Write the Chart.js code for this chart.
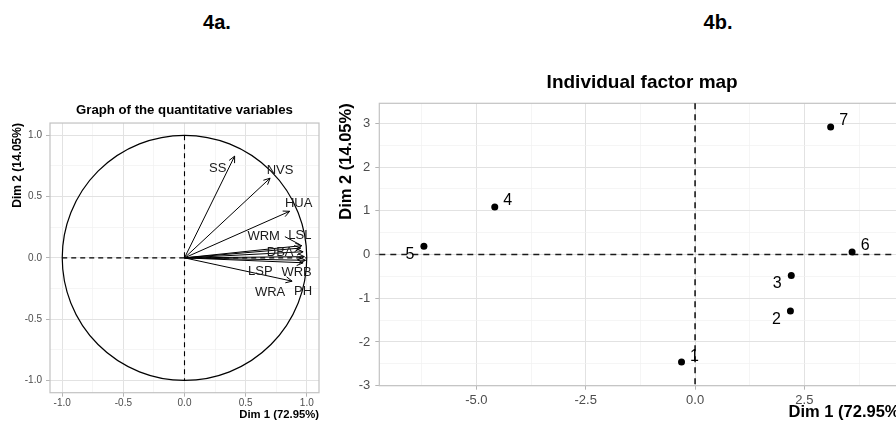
<!DOCTYPE html>
<html>
<head>
<meta charset="utf-8">
<script src="https://cdn.jsdelivr.net/npm/chart.js@4.4.0/dist/chart.umd.min.js"></script>
<style>
  html, body { margin: 0; padding: 0; background: #fff; }
  body { width: 896px; height: 425px; overflow: hidden; position: relative; font-family: "Liberation Sans", Arial, sans-serif; }
  .tag { position: absolute; top: 11px; font-weight: bold; font-size: 20px; line-height: 23px; transform: translateX(-50%); color: #000; }
  #wrapA { position: absolute; left: 0; top: 90px; width: 330px; height: 335px; }
  #wrapB { position: absolute; left: 330px; top: 50px; width: 590px; height: 375px; }
</style>
</head>
<body>
<div class="tag" style="left:217px">4a.</div>
<div class="tag" style="left:718px">4b.</div>
<div id="wrapA"><canvas id="varChart" width="330" height="335"></canvas></div>
<div id="wrapB"><canvas id="indChart" width="590" height="375"></canvas></div>

<script>
// variables (correlation circle)
const varNames = ["SS", "NVS", "HUA", "WRM", "LSL", "DBA", "LSP", "WRB", "WRA", "PH"];
const varDim1 = [0.41, 0.70, 0.86, 0.95, 0.96, 0.97, 0.98, 0.99, 0.88, 0.97];
const varDim2 = [0.83, 0.65, 0.38, 0.08, 0.10, 0.05, 0.01, -0.02, -0.19, -0.04];

// individuals
const indNames = ["1", "2", "3", "4", "5", "6", "7"];
const indDim1 = [-0.31, 2.18, 2.20, -4.58, -6.20, 3.59, 3.10];
const indDim2 = [-2.46, -1.29, -0.48, 1.09, 0.19, 0.06, 2.92];

const dim1Title = "Dim 1 (72.95%)";
const dim2Title = "Dim 2 (14.05%)";

const FONT = "'Liberation Sans', Arial, sans-serif";

// label nudges in pixels (ggrepel-ish placement)
const varNudge = {
  SS: [-17, 12], NVS: [10, -8], HUA: [9, -8], WRM: [-37, -12], LSL: [-2, -10],
  DBA: [-23, 1], LSP: [-44, 15], WRB: [-9, 12], WRA: [-22, 11], PH: [0, 29]
};
const indOnLeft = ["2", "3", "5"];

function isMultiple(v, step) {
  const r = v / step;
  return Math.abs(r - Math.round(r)) < 1e-6;
}

function gridStyle(major) {
  return {
    color: ctx => isMultiple(ctx.tick.value, major) ? "#e2e2e2" : "#f1f1f1",
    lineWidth: ctx => isMultiple(ctx.tick.value, major) ? 1 : 0.7,
    tickColor: ctx => isMultiple(ctx.tick.value, major) ? "#b5b5b5" : "rgba(0,0,0,0)",
    tickLength: 4
  };
}

// grey panel border like ggplot theme_light
const panelBorder = {
  id: "panelBorder",
  beforeDatasetsDraw(chart) {
    const a = chart.chartArea, ctx = chart.ctx;
    ctx.save();
    ctx.strokeStyle = "#c2c2c2";
    ctx.lineWidth = 1.2;
    ctx.strokeRect(a.left, a.top, a.right - a.left, a.bottom - a.top);
    ctx.restore();
  }
};

// circle + dashed axes for the variables graph
const circleGuide = {
  id: "circleGuide",
  beforeDatasetsDraw(chart) {
    const x = chart.scales.x, y = chart.scales.y, ctx = chart.ctx;
    const cx = x.getPixelForValue(0), cy = y.getPixelForValue(0);
    ctx.save();
    ctx.strokeStyle = "#000";
    ctx.lineWidth = 1.1;
    ctx.setLineDash([5, 4]);
    ctx.beginPath();
    ctx.moveTo(x.getPixelForValue(-1), cy);
    ctx.lineTo(x.getPixelForValue(1), cy);
    ctx.moveTo(cx, y.getPixelForValue(1));
    ctx.lineTo(cx, y.getPixelForValue(-1));
    ctx.stroke();
    ctx.setLineDash([]);
    ctx.lineWidth = 1.2;
    ctx.beginPath();
    ctx.ellipse(cx, cy, x.getPixelForValue(1) - cx, cy - y.getPixelForValue(1), 0, 0, Math.PI * 2);
    ctx.stroke();
    ctx.restore();
  }
};

const arrowHeads = {
  id: "arrowHeads",
  afterDatasetsDraw(chart) {
    const ctx = chart.ctx;
    ctx.save();
    ctx.strokeStyle = "#000";
    ctx.lineWidth = 1;
    chart.data.datasets.forEach((ds, i) => {
      const pts = chart.getDatasetMeta(i).data;
      const a = pts[0], b = pts[1];
      const ang = Math.atan2(b.y - a.y, b.x - a.x);
      const len = 7, spread = 0.45;
      ctx.beginPath();
      ctx.moveTo(b.x - len * Math.cos(ang - spread), b.y - len * Math.sin(ang - spread));
      ctx.lineTo(b.x, b.y);
      ctx.lineTo(b.x - len * Math.cos(ang + spread), b.y - len * Math.sin(ang + spread));
      ctx.stroke();
    });
    ctx.font = "13px " + FONT;
    ctx.fillStyle = "#1a1a1a";
    ctx.textAlign = "center";
    ctx.textBaseline = "middle";
    chart.data.datasets.forEach((ds, i) => {
      const b = chart.getDatasetMeta(i).data[1];
      const n = varNudge[ds.label] || [0, -10];
      const tx = b.x + n[0], ty = b.y + n[1];
      ctx.fillText(ds.label, tx, ty);
      if (ds.label === "LSL") {
        ctx.beginPath();
        ctx.moveTo(tx - 15, ty + 1);
        ctx.lineTo(b.x - 2, b.y - 1);
        ctx.stroke();
      }
    });
    ctx.restore();
  }
};

new Chart("varChart", {
  type: "scatter",
  data: {
    datasets: varNames.map((name, i) => ({
      label: name,
      data: [{ x: 0, y: 0 }, { x: varDim1[i], y: varDim2[i] }],
      showLine: true,
      borderColor: "#000",
      borderWidth: 1,
      pointRadius: 0,
      fill: false
    }))
  },
  options: {
    responsive: false,
    animation: false,
    events: [],
    layout: { padding: { left: 0, right: 11, top: 0, bottom: 0 } },
    plugins: {
      legend: { display: false },
      tooltip: { enabled: false },
      title: {
        display: true,
        fullSize: false,
        text: "Graph of the quantitative variables",
        color: "#000",
        font: { family: FONT, size: 13.2, weight: "bold" },
        padding: { top: 12, bottom: 5.2 }
      }
    },
    scales: {
      x: {
        type: "linear", min: -1.1, max: 1.1,
        afterFit: s => { s.height = 32.3; },
        border: { display: false },
        grid: gridStyle(0.5),
        ticks: {
          stepSize: 0.25, includeBounds: false, autoSkip: false, maxRotation: 0, maxTicksLimit: 50,
          color: "#4d4d4d", font: { family: FONT, size: 10 }, padding: 1,
          callback: v => isMultiple(v, 0.5) ? v.toFixed(1) : ""
        },
        title: {
          display: true, text: dim1Title, align: "end", color: "#000",
          font: { family: FONT, size: 11.3, weight: "bold" }, padding: { top: 0, bottom: 3.2 }
        }
      },
      y: {
        type: "linear", min: -1.1, max: 1.1,
        afterFit: s => { s.width = 50; },
        border: { display: false },
        grid: gridStyle(0.5),
        ticks: {
          stepSize: 0.25, includeBounds: false, autoSkip: false, maxTicksLimit: 50,
          color: "#4d4d4d", font: { family: FONT, size: 10 }, padding: 4,
          callback: v => isMultiple(v, 0.5) ? v.toFixed(1) : ""
        },
        title: {
          display: true, text: dim2Title, align: "end", color: "#000",
          font: { family: FONT, size: 12, weight: "bold" }, padding: { top: 10.8, bottom: 0 }
        }
      }
    }
  },
  plugins: [panelBorder, circleGuide, arrowHeads]
});

// dashed axes + point labels for the individuals map
const indGuide = {
  id: "indGuide",
  beforeDatasetsDraw(chart) {
    const x = chart.scales.x, y = chart.scales.y, a = chart.chartArea, ctx = chart.ctx;
    const cx = x.getPixelForValue(0), cy = y.getPixelForValue(0);
    ctx.save();
    ctx.strokeStyle = "#1a1a1a";
    ctx.lineWidth = 1.6;
    ctx.setLineDash([6, 5]);
    ctx.beginPath();
    ctx.moveTo(a.left, cy);
    ctx.lineTo(a.right, cy);
    ctx.moveTo(cx, a.top);
    ctx.lineTo(cx, a.bottom);
    ctx.stroke();
    ctx.restore();
  },
  afterDatasetsDraw(chart) {
    const ctx = chart.ctx;
    const pts = chart.getDatasetMeta(0).data;
    ctx.save();
    ctx.font = "16px " + FONT;
    ctx.fillStyle = "#000";
    ctx.textAlign = "center";
    ctx.textBaseline = "middle";
    pts.forEach((p, i) => {
      const name = indNames[i];
      if (indOnLeft.includes(name)) ctx.fillText(name, p.x - 14, p.y + 8.5);
      else ctx.fillText(name, p.x + 13, p.y - 6);
    });
    ctx.restore();
  }
};

new Chart("indChart", {
  type: "scatter",
  data: {
    datasets: [{
      label: "individuals",
      data: indNames.map((n, i) => ({ x: indDim1[i], y: indDim2[i] })),
      pointRadius: 3.5,
      pointBackgroundColor: "#000",
      pointBorderWidth: 0
    }]
  },
  options: {
    responsive: false,
    animation: false,
    events: [],
    layout: { padding: { left: 0, right: 15, top: 0, bottom: 0 } },
    plugins: {
      legend: { display: false },
      tooltip: { enabled: false },
      title: {
        display: true,
        fullSize: false,
        text: "Individual factor map",
        color: "#000",
        font: { family: FONT, size: 19, weight: "bold" },
        padding: { top: 21.6, bottom: 8.9 }
      }
    },
    scales: {
      x: {
        type: "linear", min: -7.22, max: 4.8,
        afterFit: s => { s.height = 39.3; },
        border: { display: false },
        grid: gridStyle(2.5),
        ticks: {
          stepSize: 1.25, includeBounds: false, autoSkip: false, maxRotation: 0, maxTicksLimit: 50,
          color: "#4d4d4d", font: { family: FONT, size: 13 }, padding: 3,
          callback: v => isMultiple(v, 2.5) ? v.toFixed(1) : ""
        },
        title: {
          display: true, text: dim1Title, align: "end", color: "#000",
          font: { family: FONT, size: 16.5, weight: "bold" }, padding: { top: 0, bottom: 3.1 }
        }
      },
      y: {
        type: "linear", min: -3, max: 3.46,
        afterFit: s => { s.width = 49.3; },
        border: { display: false },
        grid: gridStyle(1),
        ticks: {
          stepSize: 0.5, includeBounds: false, autoSkip: false, maxTicksLimit: 50,
          color: "#4d4d4d", font: { family: FONT, size: 13 }, padding: 5,
          callback: v => isMultiple(v, 1) ? String(v) : ""
        },
        title: {
          display: true, text: dim2Title, align: "end", color: "#000",
          font: { family: FONT, size: 16.5, weight: "bold" }, padding: { top: 6.8, bottom: 0 }
        }
      }
    }
  },
  plugins: [panelBorder, indGuide]
});
</script>
</body>
</html>
